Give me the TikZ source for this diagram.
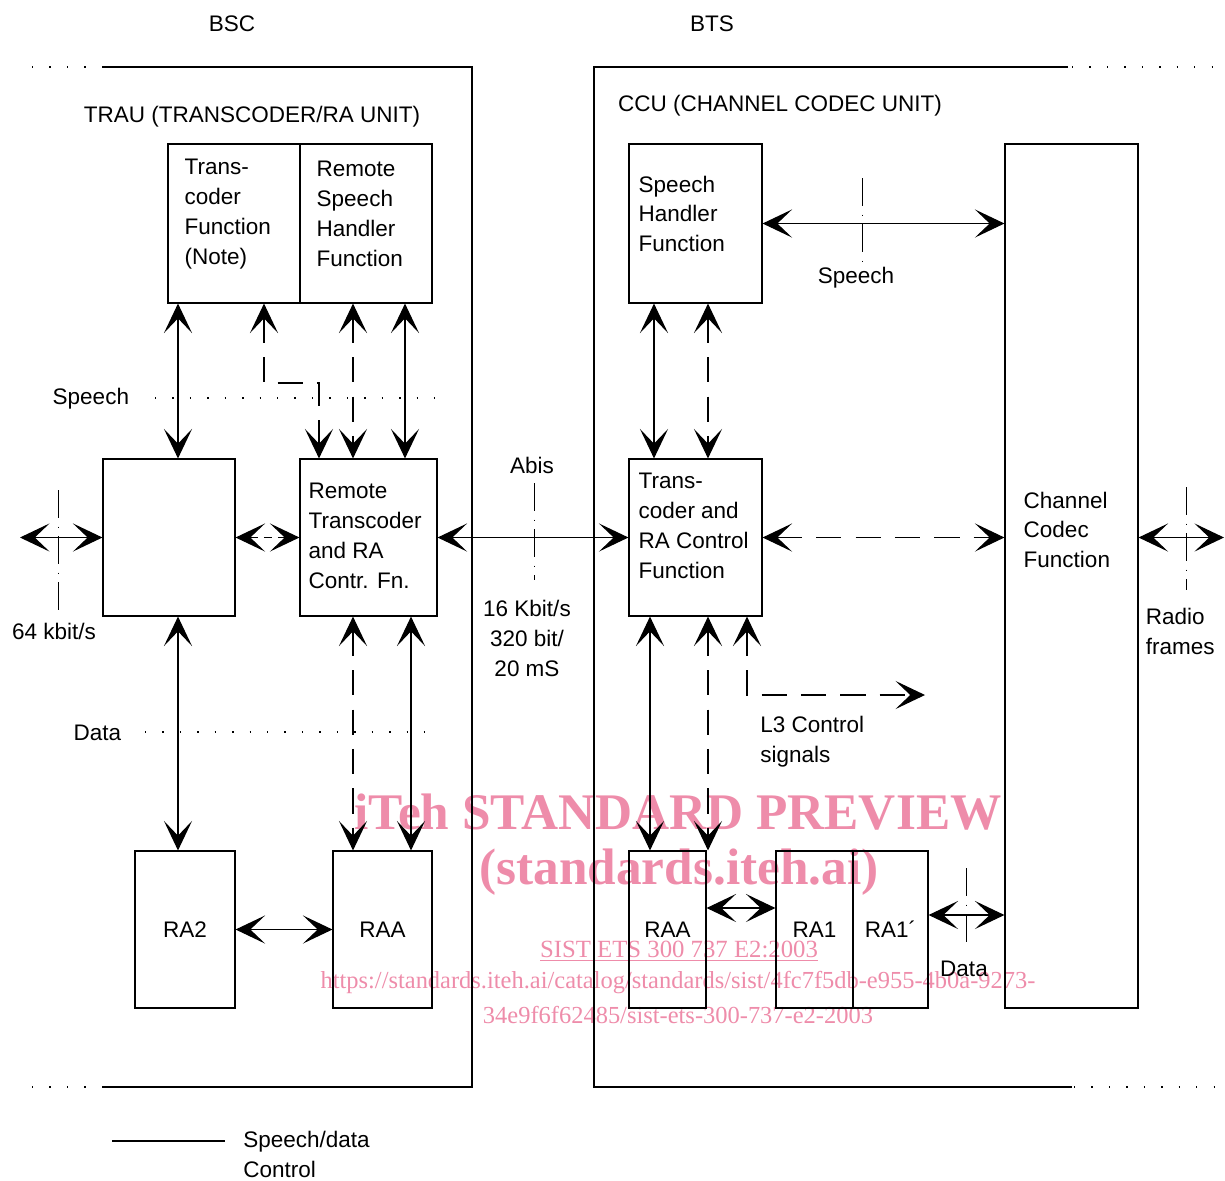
\documentclass[tikz,border=0pt]{standalone}
\usepackage{fontspec}
\setmainfont{Liberation Sans}
\newfontfamily\wmfont{Liberation Serif}
\usetikzlibrary{arrows.meta,calc}
\definecolor{wmpink}{RGB}{238,140,170}

\begin{document}
\begin{tikzpicture}[x=0.025cm,y=-0.025cm,
  every node/.style={font=\fontsize{16}{21.3}\selectfont},
  >={Stealth[length=21pt,width=20pt,inset=10.5pt]},
  box/.style={draw,line width=0.8pt,inner sep=0pt,minimum height=157*0.025cm},
  txt/.style={anchor=north west,align=left,inner sep=0pt},
  link/.style={line width=0.8pt},
  ctrl/.style={line width=0.8pt,dash pattern=on 18pt off 10pt},
  ifc/.style={line width=0.6pt,dash pattern=on 20pt off 6pt on 0.8pt off 6pt},
  dots/.style={line width=1pt,dash pattern=on 1pt off 11.4pt},
  wm/.style={text=wmpink,inner sep=0pt}]
\useasboundingbox (0,0) rectangle (1225,1180);

% watermark
\node[wm,font=\wmfont\bfseries\fontsize{36.5}{36.5}\selectfont] (wm1) at (678,812) {iTeh STANDARD PREVIEW};
\node[wm,font=\wmfont\bfseries\fontsize{36.5}{36.5}\selectfont] (wm2) at (679,872) {(standards.iteh.ai)};
\node[wm,font=\wmfont\fontsize{17.6}{17.6}\selectfont] (wm3) at (679,951) {\underline{SIST ETS 300 737 E2:2003}};
\node[wm,font=\wmfont\fontsize{17.4}{17.4}\selectfont] (wm4) at (678,983) {https://standards.iteh.ai/catalog/standards/sist/4fc7f5db-e955-4b0a-9273-};
\node[wm,font=\wmfont\fontsize{17.4}{17.4}\selectfont] (wm5) at (678,1015) {34e9f6f62485/sist-ets-300-737-e2-2003};

% frames
\node (bsc) at (232,24) {BSC};
\node (bts) at (712,24) {BTS};
\draw[link] (102,67) -| (472,1087) -- (102,1087);
\draw[link] (1068,67) -| (594,1087) -- (1072,1087);
\draw[dots] (32,67) -- (100,67);
\draw[dots] (32,1087) -- (100,1087);
\draw[dots] (1072,67) -- (1225,67);
\draw[dots] (1074,1087) -- (1225,1087);

% BSC side
\node (trau) at (252,117) {TRAU (TRANSCODER/RA UNIT)};
\node[box,minimum width=132*0.025cm,minimum height=159*0.025cm] (tcf) at (234,223.5) {};
\node[box,minimum width=132*0.025cm,minimum height=159*0.025cm] (rsh) at (366,223.5) {};
\node[txt] (tcft) at ($(tcf.north west)+(17,15)$) {Trans-\\coder\\Function\\(Note)};
\node[txt] (rsht) at ($(rsh.north west)+(17,17)$) {Remote\\Speech\\Handler\\Function};
\node[box,minimum width=132*0.025cm] (lft) at (169,537.5) {};
\node[box,minimum width=137*0.025cm] (rtrc) at (368.5,537.5) {};
\node[txt] (rtrct) at ($(rtrc.north west)+(9,24)$) {Remote\\Transcoder\\and RA\\Contr. Fn.};
\node[box,minimum width=100*0.025cm] (ra2) at (185,929.5) {RA2};
\node[box,minimum width=99*0.025cm] (raal) at (382.5,929.5) {RAA};

% BTS side
\node (ccu) at (780,106) {CCU (CHANNEL CODEC UNIT)};
\node[box,minimum width=133*0.025cm,minimum height=159*0.025cm] (shf) at (695.5,223.5) {};
\node[txt] (shft) at ($(shf.north west)+(10,32)$) {Speech\\Handler\\Function};
\node[box,minimum width=133*0.025cm,minimum height=864*0.025cm] (ccf) at (1071.5,576) {};
\node[txt] (ccft) at ($(ccf.north west)+(19,348)$) {Channel\\Codec\\Function};
\node[box,minimum width=133*0.025cm] (trac) at (695.5,537.5) {};
\node[txt] (tract) at ($(trac.north west)+(10,14)$) {Trans-\\coder and\\RA Control\\Function};
\node[box,minimum width=77*0.025cm] (raar) at (667.5,929.5) {RAA};
\node[box,minimum width=77*0.025cm] (ra1) at (814.5,929.5) {RA1};
\node[box,minimum width=75*0.025cm] (ra1p) at (890.5,929.5) {RA1´};

% labels
\node[anchor=east] (spl) at (134,399) {Speech};
\node[anchor=east] (dtl) at (126,733) {Data};
\node (kb64) at (54,631) {64 kbit/s};
\node (abis) at (532,465) {Abis};
\node[align=center] (rate) at (527,638) {16 Kbit/s\\320 bit/\\20 mS};
\node (spr) at (856,278) {Speech};
\node[txt] (radio) at ($(ccf.east)+(7,32)$) {Radio\\frames};
\node[txt] (l3t) at (760,716) {L3 Control\\signals};
\node (dtr) at (964,969) {Data};

% interface lines
\draw[dots] (155,398) -- (437,398);
\draw[dots] (145,732) -- (427,732);
\draw[ifc] (58,490) -- (58,618);
\draw[ifc] (534,483) -- (534,580);
\draw[ifc] (862,178) -- (862,262);
\draw[ifc] (1186,487) -- (1186,590);
\draw[ifc] (966,868) -- (966,950);

% columns and rows for connectors
\foreach \n/\x in {ca/178,cb/264,cc/319,cd/353,ce/405,cf/411,cg/654,ch/650,ci/708,cj/747}
  \coordinate (\n) at (\x,0);
\coordinate (sprow) at (0,383);
\coordinate (r3) at (0,908);
\coordinate (r4) at (0,915);
\coordinate (lin) at (20,537.5);
\coordinate (rout) at (1224,537.5);
\coordinate (l3end) at (925,695);

% connectors BSC
\draw[link,<->] (tcf.south -| ca) -- (lft.north -| ca);
\draw[ctrl,<->] (tcf.south -| cb) |- (sprow -| cc) -- (rtrc.north -| cc);
\draw[ctrl,<->] (rsh.south -| cd) -- (rtrc.north -| cd);
\draw[link,<->] (rsh.south -| ce) -- (rtrc.north -| ce);
\draw[link,<->] (lft.south -| ca) -- (ra2.north -| ca);
\draw[ctrl,<->] (rtrc.south -| cd) -- (raal.north -| cd);
\draw[link,<->] (rtrc.south -| cf) -- (raal.north -| cf);
\draw[link,<->] (lin) -- (lft.west);
\draw[<->,line width=0.8pt,dash pattern=on 6pt off 4pt] (lft.east) -- (rtrc.west);
\draw[link,<->] (rtrc.east) -- (trac.west);
\draw[link,<->] (ra2.east) -- (raal.west);

% connectors BTS
\draw[link,<->] (shf.east) -- (shf.east -| ccf.west);
\draw[link,<->] (shf.south -| cg) -- (trac.north -| cg);
\draw[ctrl,<->] (shf.south -| ci) -- (trac.north -| ci);
\draw[ctrl,<->] (trac.east) -- (trac.east -| ccf.west);
\draw[link,<->] (ccf.east |- lin) -- (rout);
\draw[link,<->] (trac.south -| ch) -- (raar.north -| ch);
\draw[ctrl,<->] (trac.south -| ci) -- (raar.north -| ci);
\draw[ctrl,<->] (trac.south -| cj) |- (l3end);
\draw[link,<->] (raar.east |- r3) -- (ra1.west |- r3);
\draw[link,<->] (ra1p.east |- r4) -- (ccf.west |- r4);

% legend
\draw[link] (112,1141) -- (225,1141);
\node[txt] (lgd) at (243,1131) {Speech/data\\Control};
\end{tikzpicture}
\end{document}
